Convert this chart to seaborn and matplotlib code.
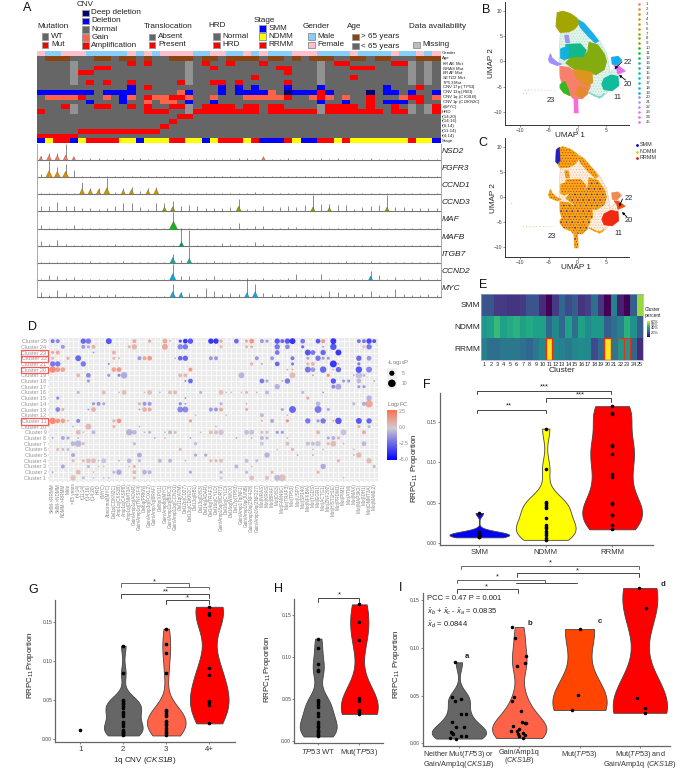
import numpy as np
import pandas as pd
import matplotlib
matplotlib.use("Agg")
import matplotlib.pyplot as plt
from matplotlib.colors import ListedColormap, LinearSegmentedColormap, Normalize
from matplotlib.patches import Rectangle
import seaborn as sns

sns.set_theme(style="white")
plt.rcParams['font.family'] = ['Liberation Sans', 'DejaVu Sans']
plt.rcParams['mathtext.fontset'] = 'custom'
plt.rcParams['mathtext.rm'] = 'Liberation Sans'
plt.rcParams['mathtext.it'] = 'Liberation Sans:italic'
plt.rcParams['mathtext.bf'] = 'Liberation Sans:bold'
plt.rcParams['hatch.linewidth'] = 0.35

W, H = 685, 769
fig = plt.figure(figsize=(W/100, H/100), dpi=100, facecolor='white')

def axpx(x0, y0, x1, y1, **kw):
    return fig.add_axes([x0/W, 1-y1/H, (x1-x0)/W, (y1-y0)/H], **kw)

# ------------------------------------------------------------------ A data
n_samples = 49
GRAY, RED, BLUE, TOM, NAVY, MISS, BROWN, SKY, PINK, YEL = range(10)
onco_colors = ['#666666', '#FF0000', '#0000FF', '#FF6347', '#00006E', '#929292',
               '#8B4513', '#87CEFA', '#FFC0CB', '#FFFF00']
gender_male = [1,2,6,7,8,9,10,12,14,19,20,23,24,26,28,29,30,34,35,36,37,39,40,41,42,44,45,47]
age_old = [1,2,3,7,8,10,11,13,16,17,18,20,21,23,24,25,26,28,29,31,33,34,35,38,39,41,42,46,47,48]
mut_missing = [4,18,34,45,47]
kras_mut = [11,13,20,23,27,36,37,43,44]
nras_mut = [7,8,21,29,30,38,39,40]
braf_mut = [5,6,30]
setd2_mut = [26,38]
tp53_mut = [6,8,11,17,21,22,24,30]
cnv17p = {BLUE:[11,22,24,26,30,34,42], RED:[13,46]}
cnv13q = {BLUE:[0,1,2,3,4,5,6,8,9,10,11,18,22,24,25,26,27,31,32,33,35,42,43,45,48],
          TOM:[17,28], NAVY:[30,40], RED:[34]}
cnv1q = {TOM:[1,2,3,4,8,11,14,15,18,21,25,26,27,28,29,33,35,37,44,48],
         RED:[5,13,16,17,30,34,40,45,46], BLUE:[10]}
cnv1p = {BLUE:[6,10,18,21,34,37,42,43,44], TOM:[13,15,16], RED:[40,46]}
myc_tx = {RED:[3,7,8,11,13,16,17,20,21,22,23,25,26,28,29,35,36,37,38,40,43,48], MISS:[4,18,34,45,47]}
hrd = {RED:[0,13,14,15]+list(range(19,27))+list(range(28,34))+list(range(35,42))+[43,44,48],
       MISS:[4,18,34,45,47]}
t1420 = [17,18]
t1416 = [16]
t614 = [15]
t1114 = [5,6,7,8,9,10,11,12,13,14]
t414 = [0,1,2,3,4]
stage_blue = [0,4,12,20,27,28,29,32,33,48]
stage_yellow = [1,5,10,11,13,14,15,18,19,21,25,31,36,38,39,40,41,42,43,44,46,47]
onco_labels = ['Gender','Age',r'$\it{KRAS}$ Mut',r'$\it{NRAS}$ Mut',r'$\it{BRAF}$ Mut',r'$\it{SETD2}$ Mut',
               r'$\it{TP53}$ Mut',r'CNV 17p ($\it{TP53}$)',r'CNV 13q ($\it{RB1}$)',r'CNV 1q ($\it{CKS1B}$)',
               r'CNV 1p ($\it{CDKN2C}$)',r't($\it{MYC}$)','HRD','t(14;20)','t(14;16)','t(6;14)','t(11;14)','t(4;14)','Stage']

def make(base, spec):
    r = np.full(n_samples, base)
    for code, idx in spec.items():
        r[idx] = code
    return r
onco = np.vstack([
    make(PINK, {SKY: gender_male}),
    make(GRAY, {BROWN: age_old}),
    make(GRAY, {MISS: mut_missing, RED: kras_mut}),
    make(GRAY, {MISS: mut_missing, RED: nras_mut}),
    make(GRAY, {MISS: mut_missing, RED: braf_mut}),
    make(GRAY, {MISS: mut_missing, RED: setd2_mut}),
    make(GRAY, {MISS: mut_missing, RED: tp53_mut}),
    make(GRAY, cnv17p), make(GRAY, cnv13q), make(GRAY, cnv1q), make(GRAY, cnv1p),
    make(GRAY, myc_tx), make(GRAY, hrd),
    make(GRAY, {RED: t1420}), make(GRAY, {RED: t1416}), make(GRAY, {RED: t614}),
    make(GRAY, {RED: t1114}), make(GRAY, {RED: t414}),
    make(RED, {BLUE: stage_blue, YEL: stage_yellow}),
])

genes = ['NSD2','FGFR3','CCND1','CCND3','MAF','MAFB','ITGB7','CCND2','MYC']
gene_colors = ['#F07860','#E08A00','#C89400','#8A9A00','#22AA22','#0E9A60','#0EAAA0','#10A5D8','#10A5E0']
spikes = {
 'NSD2': {0:.25,1:.45,2:.45,3:1.05,4:.2,6:.1,7:.1,10:.15,12:.1,24:.1,25:.1,27:.2,30:.1,34:.1,36:.1,40:.1,43:.05},
 'FGFR3': {0:.2,1:1.0,2:.65,3:.8,4:.45},
 'CCND1': {5:.75,6:.4,7:.35,8:1.0,9:.15,10:.35,11:.45,12:.2,13:.35,14:.45,16:.05,19:.05,23:.05,26:.1,29:.05},
 'CCND3': {0:.3,1:.3,2:.6,3:.3,4:.3,5:.2,6:.2,7:.15,8:.2,9:.3,10:.5,11:.5,12:.25,13:.1,14:.5,15:.5,16:.65,17:.3,
           18:.35,19:.3,20:.2,21:.2,22:.2,23:.25,24:.75,25:.1,26:.1,27:.3,28:.15,29:.25,30:.3,31:.25,32:.35,33:1.0,
           34:.45,35:.45,36:.35,37:.4,38:.15,39:.25,40:.3,41:.35,42:1.0,43:.25,44:.25,45:.2,46:.2,47:.2,48:.2},
 'MAF': {0:.25,1:.08,2:.05,3:.08,4:.25,16:1.0,19:.05,23:.1,24:.35,26:.15,27:.15,30:.1,31:.12,36:.05,40:.1,41:.08},
 'MAFB': {0:.3,1:.15,2:.35,3:.15,9:.1,16:.05,17:1.15,18:1.0,22:.2,23:.1,26:.25,27:.1,33:.05,37:.05},
 'ITGB7': {1:.05,6:.1,10:.1,15:.05,16:.55,17:.2,18:1.0,21:.1,30:.05,37:.1,40:.1,43:.05},
 'CCND2': {0:.05,1:.3,2:.25,3:.1,4:.2,16:1.0,17:.25,18:.25,20:.1,21:.25,27:.1,30:.1,31:.35,34:.4,37:.05,38:.08,40:.6,41:.3,43:.2,46:.2,25:.15},
 'MYC': {0:.3,1:.15,2:.45,3:.25,4:.1,5:.15,6:.15,7:.15,8:.15,9:.2,12:.05,16:.8,17:.3,18:.25,19:.2,20:.6,21:.4,22:.2,23:.25,24:.2,
         25:1.1,26:.8,27:.25,28:.2,29:.1,30:.15,31:.2,32:.1,33:.1,34:.1,35:.35,36:.3,37:.2,38:.2,39:.2,40:.4,41:.1,42:.1,43:.5,44:.2,45:.15,46:.1,47:.2,48:.1},
}
blobs = {
 'NSD2': {0:5,1:14,2:14,3:14,4:5,27:5},
 'FGFR3': {1:28,2:22,3:22},
 'CCND1': {5:16,6:12,7:10,8:26,10:8,11:12,13:8,14:16},
 'CCND3': {15:8,16:10,24:14,33:8,35:6,42:8},
 'MAF': {16:50},
 'MAFB': {17:10},
 'ITGB7': {16:20,18:12},
 'CCND2': {16:28,40:8},
 'MYC': {16:18,17:8,25:10,26:18},
}

# ------------------------------------------------------------------ UMAP outlines
umap_regions = {
 'haze': [(-1.0,9.2),(0.8,8.0),(2.4,6.0),(3.8,4.2),(5.0,1.8),(5.4,-0.3),(5.6,-2.2),(7.2,-0.6),(7.0,-3.0),(5.0,-6.4),(4.0,-7.2),
          (2.0,-6.2),(-3.0,-3.0),(-3.2,0.5),(-3.0,5.5)],
 'cyan_band': [(0.0,8.3),(1.1,7.6),(2.6,5.6),(3.6,4.1),(3.1,3.7),(1.9,5.0),(0.5,6.8)],
 'olive_top': [(-3.5,9.7),(-2.5,10.0),(-1.2,9.5),(-0.1,8.6),(0.2,7.5),(-0.5,6.5),(-1.5,5.9),(-3.0,5.8),(-3.7,7.0)],
 'olive_mid': [(2.0,3.8),(3.5,3.3),(4.6,1.5),(5.0,0.0),(4.6,-1.6),(3.2,-2.6),(1.5,-2.0),(-0.5,-1.6),(-2.0,-0.3),(-1.0,1.0),(1.0,1.0),(1.8,2.0)],
 'teal_mid': [(-2.0,3.4),(0.5,3.5),(1.5,2.2),(1.0,1.0),(-1.0,0.9),(-2.0,0.5)],
 'blue_left': [(-2.9,2.5),(-1.7,3.0),(-1.5,1.5),(-2.2,0.3),(-2.9,0.7)],
 'salmon': [(-3.0,-1.0),(-1.5,-1.2),(0.0,-2.4),(1.0,-2.6),(2.0,-3.5),(2.2,-5.0),(1.5,-6.6),(0.8,-7.4),(-0.8,-7.3),(-1.5,-6.2),(-2.5,-5.0),(-3.0,-3.0)],
 'orange': [(-0.6,-1.7),(1.0,-1.8),(2.5,-2.2),(2.6,-4.2),(1.6,-4.8),(0.6,-4.0),(-0.2,-3.2)],
 'orange2': [(0.0,-5.0),(1.6,-5.2),(1.8,-6.4),(0.8,-7.2),(-0.2,-6.6)],
 'lime': [(-3.0,-4.6),(-2.2,-4.0),(-1.6,-5.6),(-1.3,-6.8),(-2.4,-6.2),(-3.0,-5.3)],
 'cl11': [(4.6,-3.4),(5.8,-2.7),(7.0,-3.0),(7.1,-4.8),(6.0,-5.8),(4.6,-5.6),(4.2,-4.5)],
 'cl22': [(5.9,0.8),(7.0,1.0),(7.6,0.3),(6.8,-0.7),(6.0,-0.5)],
 'cl20': [(6.3,-0.8),(7.2,-1.0),(8.2,-1.9),(7.0,-2.5),(6.8,-1.5)],
 'peri': [(-5.0,0.4),(-4.7,1.5),(-4.4,0.7),(-3.5,-0.2),(-2.8,-0.5),(-3.5,-0.8),(-4.8,-0.2)],
 'peri2': [(-2.2,5.2),(-1.6,5.2),(-1.4,3.8),(-2.0,3.8)],
 'stem': [(-0.6,-7.4),(0.0,-7.4),(0.1,-10.2),(-0.5,-10.2)],
 'low': [(2.0,-6.2),(2.8,-6.6),(3.8,-7.3),(4.6,-6.4),(4.2,-7.0),(3.0,-6.9)],
}
tail_region = [(-9.5,-5.5),(-6.0,-5.6),(-3.6,-5.7),(-3.6,-5.9),(-7.5,-6.2),(-9.6,-6.6)]
speck_region = [(-11.6,-1.2),(-11.1,-1.2),(-11.0,-1.6),(-11.5,-1.6)]
smm_edge_region = [(-3.7,9.4),(-3.1,9.9),(-3.0,7.2),(-3.4,6.6),(-3.8,7.0)]
region_colors_B = {'haze':'#E2F3EC','cyan_band':'#19AEE8','olive_top':'#A3A500','olive_mid':'#84AB10','teal_mid':'#12B88A',
  'blue_left':'#12B2E0','salmon':'#F8806A','orange':'#DE9420','orange2':'#E58A30','lime':'#39B620','cl11':'#10BC9C','cl22':'#10AEEC',
  'cl20':'#E76BF3','peri':'#A090FF','peri2':'#A090F0','stem':'#F76BD8','low':'#80D8D0'}
cluster_hues = ['#F8766D','#EE8042','#E28900','#D59100','#C59900','#B3A000','#9FA600','#86AC00','#64B200','#1FB700',
                '#00BA38','#00BD5C','#00BF7A','#00C096','#00C0AF','#00BFC6','#00BCDB','#00B7ED','#00A5FF','#7F96FF',
                '#AD88FF','#CE78FF','#E76BF3','#FF61C9','#FF6A98']

# ------------------------------------------------------------------ D data: (column, significance level, log2FC)
feature_labels = ['SMM->RRMM','SMM->NDMM','NDMM->RRMM','Male','>65 years','t(4;14)','t(11;14)','t(14;16)','t(14;20)','HRD',
 't(MYC)','Abnormal(MYC)','Del1p(CDKN2C)','Amp1q(CKS1B)','Amp1q(CASP8)','Amp1q(DNMT3A)','Gain/Amp1q(ADAR)','Gain/Amp1q(TNFSF4)','Del6q(PRKN)',
 'Gain/Amp3q(FOXL2)','Gain/Amp7q(BRAF)','Del8p(XPO1)','Gain/Amp8q(MYC)','Gain/Amp11q(BIRC3)','Gain/Amp11q(CCND1)','Del11q(ATM)',
 'Del12p(CD27)','Del13q(CDKN2C)','Del13q(RB1)','Del13q(DIS3)','Del14q(ADAR)','Del14q(TRAF3)','Del16q(CYLD)','Gain/Amp15q(WDR73)',
 'Del16q(CYLD)','Del16q(WWOX)','Del17p(TP53)','Gain/Amp17q(NF1)','Gain/Amp19p(JUNB)','Gain/Amp19q(ZNF428)','Gain/Amp19q(ZNF227)',
 'Mut(NRAS)','Mut(KRAS)','Mut(BRAF)','Mut(DIS3)','Mut(FAM46C)','Mut(TRAF3)','Mut(TP53)','Mut(USP7)','Mut(SP140)','Mut(NFKBIA)',
 'Mut(TGDS)','Mut(EGR1)','Mut(ACTG1)','Mut(ZNF292)','Mut(HIST1H1E)','Mut(PRDM1)','Mut(PIM1)','Mut(ATM)','Mut(MAX)','Mut(MAP3K2)',
 'Mut(IDH1)','Mut(DNMT3A)','Mut(MAML2)']
cl25 = [(0,2,-3),(1,2,-2.5),(6,3,-3.5),(7,3,-3),(11,3.5,-4),(16,2,1.5),(19,1.5,1.5),(22,2.5,1.5),(23,1,1.5),(25,1.5,-4.5),(26,2.5,-5),(27,3,-4),
        (31,3,-5),(32,3,-5),(33,1.5,1.5),(36,2.5,-3.5),(38,1.5,1.5),(39,2.5,2),(41,2,-2),(42,1.5,-2),(44,3,-4),(45,2,-3.5),(46,3,-4),(47,3.5,-5),
        (49,2.5,-3),(52,2.5,-4),(53,2,2),(55,3.5,-5),(60,2,-3),(61,2,-3),(62,3,-4.5),(63,2,-4)]
cl24 = [(2,2,-2),(6,2,-2),(7,1.5,-1.5),(8,2,1),(15,1.5,1),(16,3,1),(22,3.5,1.5),(25,3,-2.5),(26,3,-3),(33,1.5,.8),(38,1.5,.8),(39,1.5,1),
        (44,3,-3),(46,2.5,-2.5),(49,1.5,-3.5),(53,1,-2),(55,4,-4),(61,1.5,.8),(62,3,-3)]
cl23 = [(0,1.5,1.5),(1,2,1.5),(8,1,-2),(12,2,1),(44,2.5,-3),(50,3.5,-4),(51,2.5,-3),(53,3,-3.5),(56,3.5,-5)]
cl22 = [(0,1.5,.8),(3,1.5,1.3),(5,3.5,-3.5),(12,1.5,1),(13,1,1.5),(17,2,-2),(18,2,1.5),(19,2.5,2),(24,1,1),(25,2.5,-3.5),(26,3,-3.5),(31,2,-2),(32,2,-2),
        (40,2,-2),(43,2,-2),(47,2,-3),(50,1.5,-1.5),(52,3,-3),(53,1.5,-2),(54,1.5,-2),(60,3,-3.5),(62,2.5,-2)]
cl21 = [(0,3,-3),(1,3,-3),(6,3,-3),(11,1,-3),(39,1.5,1.2),(41,1,-2),(44,2.5,-3.5),(47,1.5,-3),(50,1.5,1),(51,2,.8),(55,4.5,-5),(56,1,2),(60,1.5,-3)]
cl20 = [(0,4,2.5),(1,2.5,2),(2,2.5,1.5),(12,2.5,1.5),(13,2.5,2),(27,2,2),(46,1,1.5),(47,1,1.5),(50,3.5,-3),(51,2.5,-2),(53,4,-3.5),(55,1,1.5),(56,3,-3.5),(60,4,-4),(62,3.5,-2.5)]
cl19 = [(5,2,.8),(7,2.5,-2.5),(11,1.5,-2),(13,1.5,-2.5),(14,4,-1.5),(25,2,.8),(26,2,.8),(37,3.5,-1.2),(47,3.5,.7),(51,1,-1.5),(54,1.5,2.5),(59,1,-1.5),(60,4,-.8),(61,1.5,-1)]
cl18 = [(7,1.5,-2),(26,1,-3),(27,2.5,-3.5),(41,2.5,-3),(42,1.5,-1.5),(45,1,-1.5),(46,3,-3),(55,3,-4),(57,1.5,-2),(58,1.5,-2),(60,2.5,-1),(63,1,-1.5)]
cl17 = [(44,3,-1.2),(55,2,-2.5),(56,3.5,-1.5),(60,1.5,-2),(61,1.5,-2)]
cl16 = [(5,1.5,-1),(10,2,.7),(13,1,.7),(14,2.5,.6),(18,1,.7),(19,2.5,.6),(21,1,-1),(23,2,.6),(24,2,.7),(29,1.5,-1.2),(33,2.5,.6),(34,1,.6),(35,1,.7),(37,1,.7),(38,1.5,.7),(40,1,-1),(42,2,-1),(49,1.5,-1),(53,1,-2)]
cl15 = [(1,1.5,-2.5),(26,1,-2),(50,1.5,1.5),(62,3,-1.2)]
cl14 = [(8,1.5,-2),(9,2,-2),(10,1.5,-1.5),(17,1.5,1),(18,2,-2),(19,2,-2),(25,1.5,-2.5),(26,1,-2),(33,1.5,-1.2),(38,1,-1),(52,2.5,-1),(59,1.5,-1),(61,2,-1.5),(62,5,1.5)]
cl13 = [(1,2.5,-2.5),(2,1.5,1),(7,1,-2),(8,2.5,1.2),(17,1,-2),(18,2.5,1),(19,2,1.3),(25,3.5,-2.5),(26,3.5,-2.5),(31,2,-2),(32,2,-2),(33,2,1.3),(38,1.5,1.2),(45,1.5,-1.5),(47,4.5,-3.5),(52,4.5,-3),(54,1.5,-1.5)]
cl12 = [(28,1,.8),(34,1,.8),(41,2,-1),(46,1,-1)]
cl11 = [(0,4,2.5),(1,2.5,2),(2,2.5,1.7),(3,1,1.7),(5,2,-2.5),(12,1.5,1.2),(13,2.5,2),(27,1.5,2),(41,1,2),(43,2,-1.5),(46,1.5,2.5),(50,3,-3),(52,1.5,-2),(53,3,-3),(55,1,2),(56,4,-4),(60,3.5,-4),(62,3,-3.5)]
cl10 = [(4,1,-1),(7,3.5,.8),(12,1.5,1),(17,1,-1),(32,1,-1),(60,1.5,1.2),(62,1.5,-1)]
cl9 = [(5,2.5,.6),(6,1,.8),(8,2,-1),(15,4,-1.2),(16,2.5,-1),(18,1,-1),(19,1.5,-1),(22,1,-1),(23,2,-1),(24,1.5,.8),(29,1,.8),(31,2,.6),(32,2,.6),(33,3,-.6),(38,2.5,-.8),(39,2.5,-.8),(41,1.5,.7),(42,1.5,-.8),(44,1.5,-2),(45,1.5,-2),(52,2,.8),(57,3.5,-.6),(61,2,1.2)]
cl8 = [(0,1,-2),(2,2,-1.5),(3,1.5,-1.5),(5,1,-1),(20,1,-1.5),(22,1,1),(27,1,-1.5),(36,1,-1.5),(39,1,1.2),(41,2,-1),(42,1.5,-1),(46,1,-1),(54,1.5,-1.5),(55,2,-1.2),(56,1.5,1)]
cl7 = [(4,2.5,-1),(5,4,-1),(6,1.5,.8),(16,1.5,-1),(28,1.5,-1),(41,2,-.5),(46,2,.6),(50,2,-.8),(51,2,-.8),(52,3,-.6),(54,1.5,.8),(55,3.5,.6),(57,1,-1),(61,2.5,-1)]
cl6 = [(1,1.5,.8),(2,1.5,-.7),(3,1.5,-.7),(25,1.5,.8),(44,1,-.6),(47,1.5,1.2),(51,1,-.8),(53,1,.8),(59,1,-1)]
cl5 = [(4,2,-1.5),(17,2.5,-1.5),(28,1.5,-1.5),(30,1.5,-1.5),(42,3,-1.2),(48,1,-1.5),(51,1,-1.5),(59,1,-1),(60,3,.8)]
cl4 = [(4,1.5,.7),(6,1.5,.7),(7,2.5,.6),(8,2.5,.6),(9,1,-1),(10,2.5,-.7),(13,1,-1),(15,2.5,-1),(17,1.5,-1),(21,2,-1),(23,2,-1),(26,1,-1),(31,1.5,.8),(32,1.5,.8),(33,2,.5),(38,2,-.8),(40,1.5,-.8),(56,1.5,1),(62,3,.7)]
cl3 = [(2,2,-1.5),(7,1.5,-1),(9,1,.8),(10,1,.8),(15,1,1),(16,1.5,1),(36,2,-1),(39,1,.9),(53,3,-1.5),(63,1.5,-1)]
cl2 = [(0,1,-1.5),(5,2.5,.8),(8,1,.8),(12,1.5,-1),(13,3,-1.5),(16,2,.8),(18,2.5,-1.2),(19,2,-1.2),(27,1.5,-1.5),(33,1.5,-1),(38,1.5,-1),(43,1.5,.9),(52,1.5,1)]
cl1 = [(4,3,.5),(6,1.5,-.8),(8,1,.5),(10,1,-.7),(11,1,-.7),(16,1.5,.6),(33,1.5,-.5),(39,2.5,.5),(42,2,.5),(44,3.5,-1),(45,4.5,.5),(57,1,.5)]
dot_rows = {1:cl1,2:cl2,3:cl3,4:cl4,5:cl5,6:cl6,7:cl7,8:cl8,9:cl9,10:cl10,11:cl11,12:cl12,13:cl13,14:cl14,15:cl15,16:cl16,17:cl17,18:cl18,19:cl19,20:cl20,21:cl21,22:cl22,23:cl23,24:cl24,25:cl25}

# ------------------------------------------------------------------ E data
smm_pct =  [20,20,15,15,14,14,15,20,20,12,3,15,24,18,22,14,16,26,14,3,30,10,5,22,54]
ndmm_pct = [36,38,44,38,40,42,38,40,38,38,24,32,24,38,26,38,33,36,36,22,26,30,42,34,22]
rrmm_pct = [30,26,26,28,28,28,26,24,28,32,62,32,30,28,32,33,32,18,25,63,28,36,36,24,12]
highlight = [11,20,22,23]

# ------------------------------------------------------------------ violin data
f_smm = [.0066,.0075,.008,.009,.0095,.01,.011,.012,.013,.037]
f_ndmm = [.142,.092,.051,.049,.047,.045,.043,.031,.022,.02,.018,.015,.012,.010,.006,.0035]
f_rrmm = [.17,.162,.16,.122,.12,.111,.085,.082,.05,.048,.035,.034,.022,.0166]
g_1 = [.012]
g_2 = [.12,.085,.051,.049,.047,.045,.043,.040,.035,.033,.03,.022,.02,.017,.012,.011,.01,.008,.007,.005]
g_3 = [.142,.122,.111,.085,.038,.036,.034,.031,.03,.023,.022,.02,.018,.015,.012,.010,.008,.005]
g_4 = [.17,.162,.16,.092,.082,.049,.048,.044,.0205]
h_wt = [.122,.111,.092,.085,.083,.049,.047,.045,.043,.040,.033,.03,.022,.02,.018,.016,.013,.011,.01,.008,.007,.005]
h_mut = [.163,.142,.12,.051,.048,.037,.034,.032]
i_a = [.085,.049,.047,.044,.031,.031,.022,.017,.017,.012,.011,.0095,.008,.0075,.006,.005]
i_a_off = [-.07,-.12,.03,-.06,.03,.11,-.12,-.04,.08,-.13,-.11,-.09,.04,.12,-.15,-.04]
i_b = [.122,.111,.092,.084,.081,.049,.044,.034,.0225,.021,.021,.018,.015,.013,.0125,.0105,.0095,.009,.0075,.0055]
i_b_off = [-.12,-.07,.11,.09,-.03,-.09,-.12,.03,.05,.09,.12,-.11,-.01,-.03,-.14,.06,-.02,.09,0,.07]
i_c = [.12,.051,.035]
i_c_off = [0,-.02,-.13]
i_d = [.163,.142,.048,.037,.032]
i_d_off = [-.02,.11,-.05,.09,.08]

# ================================================================== draw A
ax = axpx(36.7, 51, 440.7, 143.3)
sns.heatmap(onco, ax=ax, cmap=ListedColormap(onco_colors), vmin=-.5, vmax=9.5, cbar=False,
            xticklabels=False, yticklabels=onco_labels)
ax.yaxis.tick_right()
ax.tick_params(axis='y', length=0, pad=0.8, labelsize=3.15, labelright=True, labelleft=False, labelcolor='#222222')
plt.setp(ax.get_yticklabels(), rotation=0, va='center')

ridge_edges = [143.6,160,177,194,211,229,246,263,280,297]
for i, g in enumerate(genes):
    ax = axpx(36.7, ridge_edges[i], 440.7, ridge_edges[i+1])
    ax.set_xlim(-.5, n_samples-.5); ax.set_ylim(0, 1.08)
    xs = np.arange(n_samples)
    hs = np.array([spikes[g].get(k, .035) for k in xs])
    ax.vlines(xs, 0, hs, color='#3a3a3a', lw=.55, alpha=.75)
    ax.scatter(list(blobs[g].keys()), [.1]*len(blobs[g]),
               s=[v*1.7 for v in blobs[g].values()], marker='^', color=gene_colors[i], linewidth=.15, edgecolor='#444444', zorder=3)
    ax.set_xticks([]); ax.set_yticks([])
    for sp in ax.spines.values():
        sp.set_visible(False)
    ax.spines['bottom'].set_visible(True); ax.spines['bottom'].set_color('#777777'); ax.spines['bottom'].set_linewidth(.8)
    for s in ['left', 'right']:
        ax.spines[s].set_visible(True); ax.spines[s].set_color('#aaaaaa'); ax.spines[s].set_linewidth(.7)
    ax.patch.set_alpha(0)
    ax.annotate(g, xy=(1, .52), xycoords='axes fraction', xytext=(.8, 0), textcoords='offset points',
                fontsize=6.0, style='italic', va='center', ha='left', color='#222222')

# ================================================================== B, C
def umap_axes(y0, y1, ylim, xl, yl):
    a = axpx(505.2, y0, 629, y1)
    a.patch.set_alpha(0)
    a.set_xlim(-12.5, 8.9); a.set_ylim(*ylim)
    a.set_xticks([-10,-5,0,5]); a.set_yticks([-10,-5,0,5,10])
    a.tick_params(labelsize=3.6, length=1.2, width=.4, pad=1, colors='#444444', bottom=True, left=True)
    sns.despine(ax=a)
    for s in ['left','bottom']:
        a.spines[s].set_color('#333333'); a.spines[s].set_linewidth(.7)
    a.set_xlabel('UMAP 1', fontsize=5.9); a.set_ylabel('UMAP 2', fontsize=5.9)
    a.xaxis.set_label_coords(xl, -.055); a.yaxis.set_label_coords(yl, .5)
    return a

ax = umap_axes(1.7, 125.3, (-12.7, 11.9), .523, -.082)
for name, pts in umap_regions.items():
    c = region_colors_B[name]
    if name == 'haze':
        ax.fill(*zip(*pts), facecolor=c, edgecolor='#9FDCC8', lw=.3, hatch='......')
    else:
        ax.fill(*zip(*pts), facecolor=c, edgecolor=c, lw=.8, joinstyle='round')
for reg in (tail_region, speck_region):
    ax.fill(*zip(*reg), facecolor='none', edgecolor='#F9A8D8', lw=0, hatch='.....')

ax = umap_axes(138.3, 257.3, (-12.1, 11.7), .572, -.065)
warm = ['cyan_band','olive_top','olive_mid','teal_mid','blue_left','salmon','orange','orange2','lime','peri','peri2','stem','low']
ax.fill(*zip(*umap_regions['haze']), facecolor='#FCEFE2', edgecolor='#F3B48A', lw=.3, hatch='......')
for name in warm:
    pts = umap_regions[name]
    ax.fill(*zip(*pts), facecolor='#F2A818', edgecolor='#F2A818', lw=.7)
    ax.fill(*zip(*pts), facecolor='none', edgecolor='#D82010', lw=0, hatch='......')
    if name in ('salmon','orange','orange2','olive_mid','lime','stem'):
        ax.fill(*zip(*pts), facecolor='none', edgecolor='#3030B0', lw=0, hatch='...')
ax.fill(*zip(*umap_regions['cl11']), facecolor='#F02A10', edgecolor='#F02A10', lw=.6)
ax.fill(*zip(*umap_regions['cl20']), facecolor='#F04A10', edgecolor='#F04A10', lw=.6)
ax.fill(*zip(*umap_regions['cl22']), facecolor='#F08A50', edgecolor='#F08A50', lw=.4, hatch='.....')
ax.fill(*zip(*smm_edge_region), facecolor='#2020C8', edgecolor='#2020C8', lw=.3)
for reg in (tail_region, speck_region):
    ax.fill(*zip(*reg), facecolor='none', edgecolor='#F6C070', lw=0, hatch='.....')

# ================================================================== D
recs = []
for cl, items in dot_rows.items():
    for c, s, fc in items:
        recs.append((c, cl, s*2.5, fc))
dots = pd.DataFrame(recs, columns=['col','cluster','neglogp','logfc'])
fc_cmap = LinearSegmentedColormap.from_list('fc', [(0,'#0000FF'),(5/7.8,'#D0CCD0'),(1,'#FF6F4F')])
fc_norm = Normalize(-5.2, 2.6)
ax = axpx(49, 338, 378, 481)
ax.set_facecolor('#EBEBEB')
ax.grid(True, color='white', lw=.6); ax.set_axisbelow(True)
sns.scatterplot(data=dots, x='col', y='cluster', size='neglogp', sizes=(1.8,28), size_norm=(2.5,12.5),
                hue='logfc', palette=fc_cmap, hue_norm=fc_norm, legend=False, linewidth=0, alpha=.8, ax=ax)
ax.set_xlim(-.72, 63.75); ax.set_ylim(.45, 25.55)
ax.set_xticks(range(len(feature_labels))); ax.set_xticklabels(feature_labels, rotation=90, fontsize=3.3, color='#808080')
ax.set_yticks(range(1,26)); ax.set_yticklabels([f'Cluster {i}' for i in range(1,26)], fontsize=4.0, color='#959595')
ax.tick_params(length=1, width=.3, pad=.8, color='#888888', bottom=True, left=True)
ax.set_xlabel(''); ax.set_ylabel('')
for sp in ax.spines.values():
    sp.set_visible(False)
cax = axpx(386.7, 410, 396.7, 460)
sm = plt.cm.ScalarMappable(norm=fc_norm, cmap=fc_cmap)
cb = fig.colorbar(sm, cax=cax)
cb.set_ticks([2.5,0,-2.5,-5]); cb.set_ticklabels(['2.5','0.0','\u22122.5','\u22125.0'])
cb.ax.tick_params(labelsize=3.6, length=0, pad=1.5, labelcolor='#888888')
cb.outline.set_visible(False)
lax = axpx(386.7, 368, 397, 389)
lax.set_facecolor('#F2F2F2'); lax.set_xlim(0,1); lax.set_ylim(0,1)
sns.scatterplot(x=[.5,.5], y=[.75,.27], size=[5,10], sizes=(14,30), color='black', legend=False, ax=lax, linewidth=0)
lax.set_xticks([]); lax.set_yticks([.75,.27]); lax.set_yticklabels(['5','10'], fontsize=3.6, color='#888888')
lax.yaxis.tick_right(); lax.tick_params(length=0, pad=3.5, right=False, left=False)
lax.set_xlabel(''); lax.set_ylabel('')
for sp in lax.spines.values():
    sp.set_visible(False)

# ================================================================== E
pct = pd.DataFrame([smm_pct, ndmm_pct, rrmm_pct], index=['SMM','NDMM','RRMM'], columns=range(1,26))
ax = axpx(481, 294.3, 643.3, 360)
cax = axpx(646.8, 320.7, 650.2, 336.7)
sns.heatmap(pct, ax=ax, cmap='viridis', vmin=5, vmax=63, cbar_ax=cax, cbar_kws={'ticks':[20,40,50,60]},
            xticklabels=True, yticklabels=True)
cax.set_yticklabels(['20%','40%','50%','60%'], fontsize=2.9)
cax.tick_params(length=0, pad=.6)
ax.set_xlabel('Cluster', fontsize=6.0, labelpad=.5)
ax.tick_params(axis='x', labelsize=4.0, length=0, pad=1.2, rotation=0)
ax.tick_params(axis='y', labelsize=6, length=0, pad=.8, rotation=0)
for h in highlight:
    ax.add_patch(Rectangle((h-1, 2), 1, 1, fill=False, ec='#E83010', lw=1 if h in (11,20) else .8))
for sp in ax.spines.values():
    sp.set_visible(True); sp.set_color('#9FA8D8'); sp.set_linewidth(.5)

# ================================================================== violins
def violin(box, ylim, xlim, groups, colors, ylabel, ylab_xy, dots_on=True, jitter_off=None, ticks=(0,.05,.1,.15), spine_top=None):
    ax = axpx(*box)
    ax.patch.set_alpha(0)
    order = [g[0] for g in groups]
    df = pd.concat([pd.DataFrame({'g':n,'v':v}) for n, v in groups if len(v) > 1], ignore_index=True)
    sns.violinplot(data=df, x='g', y='v', order=order, hue='g', hue_order=order, palette=dict(zip(order, colors)),
                   cut=0, density_norm='width', width=.9, inner=None, linewidth=.6, linecolor='#444444',
                   saturation=1, bw_adjust=.68, legend=False, ax=ax)
    if dots_on:
        dfp = pd.concat([pd.DataFrame({'g':n,'v':v}) for n, v in groups], ignore_index=True)
        sns.stripplot(data=dfp, x='g', y='v', order=order, color='black', jitter=False, size=2.6, linewidth=0, ax=ax)
    else:
        dfp = pd.concat([pd.DataFrame({'x':i+np.array(jitter_off[i]),'v':g[1]}) for i, g in enumerate(groups)], ignore_index=True)
        sns.scatterplot(data=dfp, x='x', y='v', color='black', s=6.5, linewidth=0, ax=ax, legend=False)
    ax.set_xlim(*xlim); ax.set_ylim(*ylim)
    ax.set_yticks(list(ticks)); ax.set_yticklabels([f'{t:.2f}' for t in ticks], fontsize=3.6, color='#444444')
    ax.tick_params(axis='y', length=1.2, width=.4, pad=.8, left=True)
    ax.tick_params(axis='x', length=1.2, width=.4, pad=1.4, bottom=True, labelsize=5.6, labelcolor='#333333')
    ax.set_xlabel(''); ax.set_ylabel(ylabel, fontsize=5.8, color='#222222')
    x0, y0, x1, y1 = box
    ax.yaxis.set_label_coords((ylab_xy[0]-x0)/(x1-x0), (y1-ylab_xy[1])/(y1-y0))
    sns.despine(ax=ax)
    for s in ['left','bottom']:
        ax.spines[s].set_color('#666666'); ax.spines[s].set_linewidth(.9)
    if spine_top is not None:
        ax.spines['left'].set_bounds(ylim[0], spine_top)
    return ax

lab = r'RRPC$_{11}$ Proportion'
lab2 = r'RRPC$_{11}$Proportion'
violin((439.5,393.3,653.3,545.3), (-.0033,.186), (-.6,2.62),
       [('SMM',f_smm),('NDMM',f_ndmm),('RRMM',f_rrmm)], ['#0000FF','#FFFF00','#FF0000'], lab, (420,468))
ax = violin((55,600,235,742), (-.0034,.1787), (-.59,3.6),
       [('1',g_1),('2',g_2),('3',g_3),('4+',g_4)], ['#666666','#666666','#FF6347','#FF0000'], lab2, (36,665.7))
ax.set_xlabel(r'1q CNV ($\it{CKS1B}$)', fontsize=5.8, labelpad=1.5, color='#222222')
ax = violin((294,598.7,383.3,743), (-.0028,.1698), (-.59,1.585),
       [(r'$\it{TP53}$ WT',h_wt),(r'Mut($\it{TP53}$)',h_mut)], ['#666666','#FF0000'], lab2, (272.7,669))
ax = violin((422.7,585,670,745.7), (-.0025,.1661), (-.6,3.5),
       [('Neither Mut($\\it{TP53}$) or\nGain/Amp1q($\\it{CKS1B}$)',i_a),
        ('Gain/Amp1q\n($\\it{CKS1B}$)',i_b),('Mut($\\it{TP53}$)',i_c),
        ('Mut($\\it{TP53}$) and\nGain/Amp1q ($\\it{CKS1B}$)',i_d)],
       ['#666666','#FF6347','#FF4500','#FF0000'], lab, (402.3,664),
       dots_on=False, jitter_off=[i_a_off,i_b_off,i_c_off,i_d_off], spine_top=.1573)
ax.tick_params(axis='x', pad=1.2, labelsize=5.3)
plt.setp(ax.get_xticklabels(), linespacing=.85)

# ================================================================== overlay: legends, brackets, letters
ov = fig.add_axes([0,0,1,1], zorder=20)
ov.set_xlim(0,W); ov.set_ylim(H,0); ov.axis('off'); ov.patch.set_alpha(0)
for t, x, y in [('A',27,8),('B',485.7,10),('C',483,143),('D',32.7,327),('E',482.7,285),('F',427,385),('G',33,590),('H',279,589),('I',401,588)]:
    ov.text(x, y, t, fontsize=9, ha='center', va='center', color='#111111')

def swatch(x, y, color, text, tx=None):
    ov.add_patch(Rectangle((x, y-3.2), 6.6, 6.6, fc=color, ec='#9a9a9a', lw=.7))
    ov.text(x+9.2 if tx is None else tx, y, text, fontsize=5.9, va='center', color='#222222')
def title(x, y, text):
    ov.text(x, y, text, fontsize=5.9, va='center', color='#222222')

title(37,26,'Mutation'); swatch(41.7,36.5,'#666666','WT'); swatch(41.7,45,'#FF0000','Mut')
title(77,4,'CNV')
for y, c, t in [(13,'#00006E','Deep deletion'),(21,'#0000FF','Deletion'),(29.3,'#666666','Normal'),(37.5,'#FF6347','Gain'),(45.5,'#FF0000','Amplification')]:
    swatch(82,y,c,t)
title(144,26,'Translocation'); swatch(148.7,36.8,'#666666','Absent'); swatch(148.7,45,'#FF0000','Present')
title(208,25.5,'HRD'); swatch(213.5,36.5,'#666666','Normal'); swatch(213.5,45,'#FF0000','HRD')
title(254,20,'Stage'); swatch(259,28.5,'#0000FF','SMM'); swatch(259,36.5,'#FFFF00','NDMM'); swatch(259,44.7,'#FF0000','RRMM')
title(303,26,'Gender'); swatch(308,36.5,'#87CEFA','Male'); swatch(308,45,'#FFC0CB','Female')
title(347,26.5,'Age'); swatch(352,37,'#8B4513','> 65 years'); swatch(352,46,'#666666','< 65 years')
title(409,26.5,'Data availability'); swatch(413.5,45,'#BDBDBD','Missing')

for i, c in enumerate(cluster_hues):
    y = 4 + i*4.92
    ov.scatter([639],[y], s=3.5, color=c, linewidth=0)
    ov.text(646, y, str(i+1), fontsize=3.1, va='center', color='#333333')
for y, c, t in [(145,'#0000C8','SMM'),(151.7,'#E8D020','NDMM'),(157.7,'#D02020','RRMM')]:
    ov.scatter([636.7],[y], s=4, color=c, linewidth=0)
    ov.text(640, y, t, fontsize=3.9, va='center', color='#333333')
def num(x, y, t):
    ov.text(x, y, t, fontsize=5.4, ha='center', va='center', color='#222222')
def arr(x0, y0, x1, y1):
    ov.annotate('', xy=(x1,y1), xytext=(x0,y0), arrowprops=dict(arrowstyle='-|>', lw=.6, color='black', mutation_scale=3.5, shrinkA=0, shrinkB=0))
num(628,62.3,'22'); arr(622,61.7,614.5,69); num(628,84,'20'); arr(625.5,80,619,75); num(617,97.7,'11'); num(551,100.7,'23')
num(629,198.7,'22'); arr(622.5,199,619,206.7); num(629,220,'20'); arr(626.7,216.7,622,212); num(618.7,233.7,'11'); num(552,236,'23')

ov.text(386.7,362.7,r'-Log$_{10}$P',fontsize=4.2,color='#777777',va='center')
ov.text(386.7,404.3,r'Log$_2$FC',fontsize=4.2,color='#777777',va='center')
ov.text(645,309.5,'Cluster',fontsize=3.5,color='#222222',va='center')
ov.text(645,315.5,'percent',fontsize=3.5,color='#222222',va='center')
for y0, y1 in [(350.3,356),(356,361.7),(367,373.3),(418.3,424.7)]:
    ov.add_patch(Rectangle((20.7,y0),27,y1-y0,fill=False,ec='#FF5555',lw=.9))

def bracket(x0, x1, y, stars, sx, sy, dl=3.2, dr=3.2, c='#444444'):
    ov.plot([x0,x0,x1,x1],[y+dl,y,y,y+dr],color=c,lw=.7,solid_joinstyle='miter')
    if stars:
        ov.text(sx, sy, stars, fontsize=5.4, ha='center', va='center', color='#222222')
bracket(477,611,390.7,'***',544,387); bracket(545.7,611,398.3,'***',580,395); bracket(476.7,545.7,409.7,'**',508.7,406)
bracket(121.3,188.7,583.3,'*',154,581.5,c='#666666'); bracket(165.7,209.3,587,'',0,0,dl=0,dr=2,c='#666666')
bracket(121.3,209.3,594.3,'**',165.7,591.5); bracket(165.7,209.3,600.3,'*',187,598)
bracket(318.3,359.3,598.3,'*',339,595)
bracket(460.7,639.3,565.7,'*',550,562.5,c='#666666'); bracket(517.3,639.3,573.3,'*',577.7,570.5)
bracket(456.7,545.3,580.3,'*',497.7,576.5,dl=3,dr=2.5,c='#666666'); bracket(515.7,576.7,583,'',0,0,dl=0,dr=0)
bracket(456.7,518,589.3,'*',486,586.5)

ov.text(426.7,598,'PCC = 0.47 P = 0.001',fontsize=5.5,va='center',color='#222222')
ov.text(426.7,611.7,r'$\bar{x}_b$ + $\bar{x}_c$ - $\bar{x}_a$ = 0.0835',fontsize=5.5,va='center',color='#222222')
ov.text(426.7,624.7,r'$\bar{x}_d$ = 0.0844',fontsize=5.5,va='center',color='#222222')
for x, y, t in [(467,657,'a'),(530.3,623.7,'b'),(600,621.7,'c'),(662.7,584.3,'d')]:
    ov.text(x,y,t,fontsize=5.6,fontweight='bold',ha='center',va='center',color='#222222')

fig.savefig('out.png', dpi=100)
